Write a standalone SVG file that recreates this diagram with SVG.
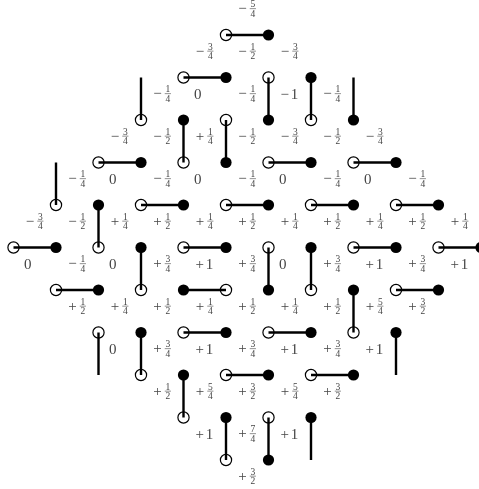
<svg xmlns="http://www.w3.org/2000/svg" width="479" height="489" viewBox="0 0 479 489">
<style>
.o{fill:#fff;stroke:#000;stroke-width:1.2}
.f{fill:#000}
.e{stroke:#000;stroke-width:2.4;fill:none}
#labels{opacity:0.995}
.s{font-family:"Liberation Serif",serif;font-size:15px;text-anchor:middle;fill:#444}
.n{font-family:"Liberation Serif",serif;font-size:9.5px;text-anchor:middle;fill:#444}
.b{stroke:#444;stroke-width:0.6;fill:none}
</style>
<rect width="479" height="489" fill="#fff"/>
<g id="nodes">
<g id="v5_0"><circle class="o" cx="226" cy="35" r="5.6"/></g>
<g id="v6_0"><circle class="f" cx="268.5" cy="35" r="5.6"/></g>
<g id="v4_1"><circle class="o" cx="183.5" cy="77.5" r="5.6"/></g>
<g id="v5_1"><circle class="f" cx="226" cy="77.5" r="5.6"/></g>
<g id="v6_1"><circle class="o" cx="268.5" cy="77.5" r="5.6"/></g>
<g id="v7_1"><circle class="f" cx="311" cy="77.5" r="5.6"/></g>
<g id="v3_2"><circle class="o" cx="141" cy="120" r="5.6"/></g>
<g id="v4_2"><circle class="f" cx="183.5" cy="120" r="5.6"/></g>
<g id="v5_2"><circle class="o" cx="226" cy="120" r="5.6"/></g>
<g id="v6_2"><circle class="f" cx="268.5" cy="120" r="5.6"/></g>
<g id="v7_2"><circle class="o" cx="311" cy="120" r="5.6"/></g>
<g id="v8_2"><circle class="f" cx="353.5" cy="120" r="5.6"/></g>
<g id="v2_3"><circle class="o" cx="98.5" cy="162.5" r="5.6"/></g>
<g id="v3_3"><circle class="f" cx="141" cy="162.5" r="5.6"/></g>
<g id="v4_3"><circle class="o" cx="183.5" cy="162.5" r="5.6"/></g>
<g id="v5_3"><circle class="f" cx="226" cy="162.5" r="5.6"/></g>
<g id="v6_3"><circle class="o" cx="268.5" cy="162.5" r="5.6"/></g>
<g id="v7_3"><circle class="f" cx="311" cy="162.5" r="5.6"/></g>
<g id="v8_3"><circle class="o" cx="353.5" cy="162.5" r="5.6"/></g>
<g id="v9_3"><circle class="f" cx="396" cy="162.5" r="5.6"/></g>
<g id="v1_4"><circle class="o" cx="56" cy="205" r="5.6"/></g>
<g id="v2_4"><circle class="f" cx="98.5" cy="205" r="5.6"/></g>
<g id="v3_4"><circle class="o" cx="141" cy="205" r="5.6"/></g>
<g id="v4_4"><circle class="f" cx="183.5" cy="205" r="5.6"/></g>
<g id="v5_4"><circle class="o" cx="226" cy="205" r="5.6"/></g>
<g id="v6_4"><circle class="f" cx="268.5" cy="205" r="5.6"/></g>
<g id="v7_4"><circle class="o" cx="311" cy="205" r="5.6"/></g>
<g id="v8_4"><circle class="f" cx="353.5" cy="205" r="5.6"/></g>
<g id="v9_4"><circle class="o" cx="396" cy="205" r="5.6"/></g>
<g id="v10_4"><circle class="f" cx="438.5" cy="205" r="5.6"/></g>
<g id="v0_5"><circle class="o" cx="13.5" cy="247.5" r="5.6"/></g>
<g id="v1_5"><circle class="f" cx="56" cy="247.5" r="5.6"/></g>
<g id="v2_5"><circle class="o" cx="98.5" cy="247.5" r="5.6"/></g>
<g id="v3_5"><circle class="f" cx="141" cy="247.5" r="5.6"/></g>
<g id="v4_5"><circle class="o" cx="183.5" cy="247.5" r="5.6"/></g>
<g id="v5_5"><circle class="f" cx="226" cy="247.5" r="5.6"/></g>
<g id="v6_5"><circle class="o" cx="268.5" cy="247.5" r="5.6"/></g>
<g id="v7_5"><circle class="f" cx="311" cy="247.5" r="5.6"/></g>
<g id="v8_5"><circle class="o" cx="353.5" cy="247.5" r="5.6"/></g>
<g id="v9_5"><circle class="f" cx="396" cy="247.5" r="5.6"/></g>
<g id="v10_5"><circle class="o" cx="438.5" cy="247.5" r="5.6"/></g>
<g id="v11_5"><circle class="f" cx="481" cy="247.5" r="5.6"/></g>
<g id="v1_6"><circle class="o" cx="56" cy="290" r="5.6"/></g>
<g id="v2_6"><circle class="f" cx="98.5" cy="290" r="5.6"/></g>
<g id="v3_6"><circle class="o" cx="141" cy="290" r="5.6"/></g>
<g id="v4_6"><circle class="f" cx="183.5" cy="290" r="5.6"/></g>
<g id="v5_6"><circle class="o" cx="226" cy="290" r="5.6"/></g>
<g id="v6_6"><circle class="f" cx="268.5" cy="290" r="5.6"/></g>
<g id="v7_6"><circle class="o" cx="311" cy="290" r="5.6"/></g>
<g id="v8_6"><circle class="f" cx="353.5" cy="290" r="5.6"/></g>
<g id="v9_6"><circle class="o" cx="396" cy="290" r="5.6"/></g>
<g id="v10_6"><circle class="f" cx="438.5" cy="290" r="5.6"/></g>
<g id="v2_7"><circle class="o" cx="98.5" cy="332.5" r="5.6"/></g>
<g id="v3_7"><circle class="f" cx="141" cy="332.5" r="5.6"/></g>
<g id="v4_7"><circle class="o" cx="183.5" cy="332.5" r="5.6"/></g>
<g id="v5_7"><circle class="f" cx="226" cy="332.5" r="5.6"/></g>
<g id="v6_7"><circle class="o" cx="268.5" cy="332.5" r="5.6"/></g>
<g id="v7_7"><circle class="f" cx="311" cy="332.5" r="5.6"/></g>
<g id="v8_7"><circle class="o" cx="353.5" cy="332.5" r="5.6"/></g>
<g id="v9_7"><circle class="f" cx="396" cy="332.5" r="5.6"/></g>
<g id="v3_8"><circle class="o" cx="141" cy="375" r="5.6"/></g>
<g id="v4_8"><circle class="f" cx="183.5" cy="375" r="5.6"/></g>
<g id="v5_8"><circle class="o" cx="226" cy="375" r="5.6"/></g>
<g id="v6_8"><circle class="f" cx="268.5" cy="375" r="5.6"/></g>
<g id="v7_8"><circle class="o" cx="311" cy="375" r="5.6"/></g>
<g id="v8_8"><circle class="f" cx="353.5" cy="375" r="5.6"/></g>
<g id="v4_9"><circle class="o" cx="183.5" cy="417.5" r="5.6"/></g>
<g id="v5_9"><circle class="f" cx="226" cy="417.5" r="5.6"/></g>
<g id="v6_9"><circle class="o" cx="268.5" cy="417.5" r="5.6"/></g>
<g id="v7_9"><circle class="f" cx="311" cy="417.5" r="5.6"/></g>
<g id="v5_10"><circle class="o" cx="226" cy="460" r="5.6"/></g>
<g id="v6_10"><circle class="f" cx="268.5" cy="460" r="5.6"/></g>
</g>
<g id="connectors" class="e">
<path d="M226 35H268.5"/>
<path d="M183.5 77.5H226"/>
<path d="M268.5 77.5V120"/>
<path d="M311 77.5V120"/>
<path d="M141 77.5V120"/>
<path d="M353.5 77.5V120"/>
<path d="M183.5 120V162.5"/>
<path d="M226 120V162.5"/>
<path d="M98.5 162.5H141"/>
<path d="M268.5 162.5H311"/>
<path d="M353.5 162.5H396"/>
<path d="M56 162.5V205"/>
<path d="M98.5 205V247.5"/>
<path d="M141 205H183.5"/>
<path d="M226 205H268.5"/>
<path d="M311 205H353.5"/>
<path d="M396 205H438.5"/>
<path d="M13.5 247.5H56"/>
<path d="M141 247.5V290"/>
<path d="M183.5 247.5H226"/>
<path d="M268.5 247.5V290"/>
<path d="M311 247.5V290"/>
<path d="M353.5 247.5H396"/>
<path d="M438.5 247.5H481"/>
<path d="M56 290H98.5"/>
<path d="M183.5 290H226"/>
<path d="M353.5 290V332.5"/>
<path d="M396 290H438.5"/>
<path d="M98.5 332.5V375"/>
<path d="M141 332.5V375"/>
<path d="M183.5 332.5H226"/>
<path d="M268.5 332.5H311"/>
<path d="M396 332.5V375"/>
<path d="M183.5 375V417.5"/>
<path d="M226 375H268.5"/>
<path d="M311 375H353.5"/>
<path d="M226 417.5V460"/>
<path d="M268.5 417.5V460"/>
<path d="M311 417.5V460"/>
</g>
<g id="labels">
<g id="l5_m1" transform="translate(247.25 13.75)"><text class="s" x="-4.8" y="-0.6">−</text><text class="n" x="5.6" y="-6.7">5</text><path class="b" d="M2.5 -5.1h6.2"/><text class="n" x="5.6" y="2.9">4</text></g>
<g id="l4_0" transform="translate(204.75 56.25)"><text class="s" x="-4.8" y="-0.6">−</text><text class="n" x="5.6" y="-6.7">3</text><path class="b" d="M2.5 -5.1h6.2"/><text class="n" x="5.6" y="2.9">4</text></g>
<g id="l5_0" transform="translate(247.25 56.25)"><text class="s" x="-4.8" y="-0.6">−</text><text class="n" x="5.6" y="-6.7">1</text><path class="b" d="M2.5 -5.1h6.2"/><text class="n" x="5.6" y="2.9">2</text></g>
<g id="l6_0" transform="translate(289.75 56.25)"><text class="s" x="-4.8" y="-0.6">−</text><text class="n" x="5.6" y="-6.7">3</text><path class="b" d="M2.5 -5.1h6.2"/><text class="n" x="5.6" y="2.9">4</text></g>
<g id="l3_1" transform="translate(162.25 98.75)"><text class="s" x="-4.8" y="-0.6">−</text><text class="n" x="5.6" y="-6.7">1</text><path class="b" d="M2.5 -5.1h6.2"/><text class="n" x="5.6" y="2.9">4</text></g>
<g id="l4_1" transform="translate(204.75 98.75)"><text class="s" x="-7" y="0">0</text></g>
<g id="l5_1" transform="translate(247.25 98.75)"><text class="s" x="-4.8" y="-0.6">−</text><text class="n" x="5.6" y="-6.7">1</text><path class="b" d="M2.5 -5.1h6.2"/><text class="n" x="5.6" y="2.9">4</text></g>
<g id="l6_1" transform="translate(289.75 98.75)"><text class="s" x="-5" y="0">−</text><text class="s" x="4.8" y="0">1</text></g>
<g id="l7_1" transform="translate(332.25 98.75)"><text class="s" x="-4.8" y="-0.6">−</text><text class="n" x="5.6" y="-6.7">1</text><path class="b" d="M2.5 -5.1h6.2"/><text class="n" x="5.6" y="2.9">4</text></g>
<g id="l2_2" transform="translate(119.75 141.25)"><text class="s" x="-4.8" y="-0.6">−</text><text class="n" x="5.6" y="-6.7">3</text><path class="b" d="M2.5 -5.1h6.2"/><text class="n" x="5.6" y="2.9">4</text></g>
<g id="l3_2" transform="translate(162.25 141.25)"><text class="s" x="-4.8" y="-0.6">−</text><text class="n" x="5.6" y="-6.7">1</text><path class="b" d="M2.5 -5.1h6.2"/><text class="n" x="5.6" y="2.9">2</text></g>
<g id="l4_2" transform="translate(204.75 141.25)"><text class="s" x="-4.8" y="-0.6">+</text><text class="n" x="5.6" y="-6.7">1</text><path class="b" d="M2.5 -5.1h6.2"/><text class="n" x="5.6" y="2.9">4</text></g>
<g id="l5_2" transform="translate(247.25 141.25)"><text class="s" x="-4.8" y="-0.6">−</text><text class="n" x="5.6" y="-6.7">1</text><path class="b" d="M2.5 -5.1h6.2"/><text class="n" x="5.6" y="2.9">2</text></g>
<g id="l6_2" transform="translate(289.75 141.25)"><text class="s" x="-4.8" y="-0.6">−</text><text class="n" x="5.6" y="-6.7">3</text><path class="b" d="M2.5 -5.1h6.2"/><text class="n" x="5.6" y="2.9">4</text></g>
<g id="l7_2" transform="translate(332.25 141.25)"><text class="s" x="-4.8" y="-0.6">−</text><text class="n" x="5.6" y="-6.7">1</text><path class="b" d="M2.5 -5.1h6.2"/><text class="n" x="5.6" y="2.9">2</text></g>
<g id="l8_2" transform="translate(374.75 141.25)"><text class="s" x="-4.8" y="-0.6">−</text><text class="n" x="5.6" y="-6.7">3</text><path class="b" d="M2.5 -5.1h6.2"/><text class="n" x="5.6" y="2.9">4</text></g>
<g id="l1_3" transform="translate(77.25 183.75)"><text class="s" x="-4.8" y="-0.6">−</text><text class="n" x="5.6" y="-6.7">1</text><path class="b" d="M2.5 -5.1h6.2"/><text class="n" x="5.6" y="2.9">4</text></g>
<g id="l2_3" transform="translate(119.75 183.75)"><text class="s" x="-7" y="0">0</text></g>
<g id="l3_3" transform="translate(162.25 183.75)"><text class="s" x="-4.8" y="-0.6">−</text><text class="n" x="5.6" y="-6.7">1</text><path class="b" d="M2.5 -5.1h6.2"/><text class="n" x="5.6" y="2.9">4</text></g>
<g id="l4_3" transform="translate(204.75 183.75)"><text class="s" x="-7" y="0">0</text></g>
<g id="l5_3" transform="translate(247.25 183.75)"><text class="s" x="-4.8" y="-0.6">−</text><text class="n" x="5.6" y="-6.7">1</text><path class="b" d="M2.5 -5.1h6.2"/><text class="n" x="5.6" y="2.9">4</text></g>
<g id="l6_3" transform="translate(289.75 183.75)"><text class="s" x="-7" y="0">0</text></g>
<g id="l7_3" transform="translate(332.25 183.75)"><text class="s" x="-4.8" y="-0.6">−</text><text class="n" x="5.6" y="-6.7">1</text><path class="b" d="M2.5 -5.1h6.2"/><text class="n" x="5.6" y="2.9">4</text></g>
<g id="l8_3" transform="translate(374.75 183.75)"><text class="s" x="-7" y="0">0</text></g>
<g id="l9_3" transform="translate(417.25 183.75)"><text class="s" x="-4.8" y="-0.6">−</text><text class="n" x="5.6" y="-6.7">1</text><path class="b" d="M2.5 -5.1h6.2"/><text class="n" x="5.6" y="2.9">4</text></g>
<g id="l0_4" transform="translate(34.75 226.25)"><text class="s" x="-4.8" y="-0.6">−</text><text class="n" x="5.6" y="-6.7">3</text><path class="b" d="M2.5 -5.1h6.2"/><text class="n" x="5.6" y="2.9">4</text></g>
<g id="l1_4" transform="translate(77.25 226.25)"><text class="s" x="-4.8" y="-0.6">−</text><text class="n" x="5.6" y="-6.7">1</text><path class="b" d="M2.5 -5.1h6.2"/><text class="n" x="5.6" y="2.9">2</text></g>
<g id="l2_4" transform="translate(119.75 226.25)"><text class="s" x="-4.8" y="-0.6">+</text><text class="n" x="5.6" y="-6.7">1</text><path class="b" d="M2.5 -5.1h6.2"/><text class="n" x="5.6" y="2.9">4</text></g>
<g id="l3_4" transform="translate(162.25 226.25)"><text class="s" x="-4.8" y="-0.6">+</text><text class="n" x="5.6" y="-6.7">1</text><path class="b" d="M2.5 -5.1h6.2"/><text class="n" x="5.6" y="2.9">2</text></g>
<g id="l4_4" transform="translate(204.75 226.25)"><text class="s" x="-4.8" y="-0.6">+</text><text class="n" x="5.6" y="-6.7">1</text><path class="b" d="M2.5 -5.1h6.2"/><text class="n" x="5.6" y="2.9">4</text></g>
<g id="l5_4" transform="translate(247.25 226.25)"><text class="s" x="-4.8" y="-0.6">+</text><text class="n" x="5.6" y="-6.7">1</text><path class="b" d="M2.5 -5.1h6.2"/><text class="n" x="5.6" y="2.9">2</text></g>
<g id="l6_4" transform="translate(289.75 226.25)"><text class="s" x="-4.8" y="-0.6">+</text><text class="n" x="5.6" y="-6.7">1</text><path class="b" d="M2.5 -5.1h6.2"/><text class="n" x="5.6" y="2.9">4</text></g>
<g id="l7_4" transform="translate(332.25 226.25)"><text class="s" x="-4.8" y="-0.6">+</text><text class="n" x="5.6" y="-6.7">1</text><path class="b" d="M2.5 -5.1h6.2"/><text class="n" x="5.6" y="2.9">2</text></g>
<g id="l8_4" transform="translate(374.75 226.25)"><text class="s" x="-4.8" y="-0.6">+</text><text class="n" x="5.6" y="-6.7">1</text><path class="b" d="M2.5 -5.1h6.2"/><text class="n" x="5.6" y="2.9">4</text></g>
<g id="l9_4" transform="translate(417.25 226.25)"><text class="s" x="-4.8" y="-0.6">+</text><text class="n" x="5.6" y="-6.7">1</text><path class="b" d="M2.5 -5.1h6.2"/><text class="n" x="5.6" y="2.9">2</text></g>
<g id="l10_4" transform="translate(459.75 226.25)"><text class="s" x="-4.8" y="-0.6">+</text><text class="n" x="5.6" y="-6.7">1</text><path class="b" d="M2.5 -5.1h6.2"/><text class="n" x="5.6" y="2.9">4</text></g>
<g id="l0_5" transform="translate(34.75 268.75)"><text class="s" x="-7" y="0">0</text></g>
<g id="l1_5" transform="translate(77.25 268.75)"><text class="s" x="-4.8" y="-0.6">−</text><text class="n" x="5.6" y="-6.7">1</text><path class="b" d="M2.5 -5.1h6.2"/><text class="n" x="5.6" y="2.9">4</text></g>
<g id="l2_5" transform="translate(119.75 268.75)"><text class="s" x="-7" y="0">0</text></g>
<g id="l3_5" transform="translate(162.25 268.75)"><text class="s" x="-4.8" y="-0.6">+</text><text class="n" x="5.6" y="-6.7">3</text><path class="b" d="M2.5 -5.1h6.2"/><text class="n" x="5.6" y="2.9">4</text></g>
<g id="l4_5" transform="translate(204.75 268.75)"><text class="s" x="-5" y="0">+</text><text class="s" x="4.8" y="0">1</text></g>
<g id="l5_5" transform="translate(247.25 268.75)"><text class="s" x="-4.8" y="-0.6">+</text><text class="n" x="5.6" y="-6.7">3</text><path class="b" d="M2.5 -5.1h6.2"/><text class="n" x="5.6" y="2.9">4</text></g>
<g id="l6_5" transform="translate(289.75 268.75)"><text class="s" x="-7" y="0">0</text></g>
<g id="l7_5" transform="translate(332.25 268.75)"><text class="s" x="-4.8" y="-0.6">+</text><text class="n" x="5.6" y="-6.7">3</text><path class="b" d="M2.5 -5.1h6.2"/><text class="n" x="5.6" y="2.9">4</text></g>
<g id="l8_5" transform="translate(374.75 268.75)"><text class="s" x="-5" y="0">+</text><text class="s" x="4.8" y="0">1</text></g>
<g id="l9_5" transform="translate(417.25 268.75)"><text class="s" x="-4.8" y="-0.6">+</text><text class="n" x="5.6" y="-6.7">3</text><path class="b" d="M2.5 -5.1h6.2"/><text class="n" x="5.6" y="2.9">4</text></g>
<g id="l10_5" transform="translate(459.75 268.75)"><text class="s" x="-5" y="0">+</text><text class="s" x="4.8" y="0">1</text></g>
<g id="l1_6" transform="translate(77.25 311.25)"><text class="s" x="-4.8" y="-0.6">+</text><text class="n" x="5.6" y="-6.7">1</text><path class="b" d="M2.5 -5.1h6.2"/><text class="n" x="5.6" y="2.9">2</text></g>
<g id="l2_6" transform="translate(119.75 311.25)"><text class="s" x="-4.8" y="-0.6">+</text><text class="n" x="5.6" y="-6.7">1</text><path class="b" d="M2.5 -5.1h6.2"/><text class="n" x="5.6" y="2.9">4</text></g>
<g id="l3_6" transform="translate(162.25 311.25)"><text class="s" x="-4.8" y="-0.6">+</text><text class="n" x="5.6" y="-6.7">1</text><path class="b" d="M2.5 -5.1h6.2"/><text class="n" x="5.6" y="2.9">2</text></g>
<g id="l4_6" transform="translate(204.75 311.25)"><text class="s" x="-4.8" y="-0.6">+</text><text class="n" x="5.6" y="-6.7">1</text><path class="b" d="M2.5 -5.1h6.2"/><text class="n" x="5.6" y="2.9">4</text></g>
<g id="l5_6" transform="translate(247.25 311.25)"><text class="s" x="-4.8" y="-0.6">+</text><text class="n" x="5.6" y="-6.7">1</text><path class="b" d="M2.5 -5.1h6.2"/><text class="n" x="5.6" y="2.9">2</text></g>
<g id="l6_6" transform="translate(289.75 311.25)"><text class="s" x="-4.8" y="-0.6">+</text><text class="n" x="5.6" y="-6.7">1</text><path class="b" d="M2.5 -5.1h6.2"/><text class="n" x="5.6" y="2.9">4</text></g>
<g id="l7_6" transform="translate(332.25 311.25)"><text class="s" x="-4.8" y="-0.6">+</text><text class="n" x="5.6" y="-6.7">1</text><path class="b" d="M2.5 -5.1h6.2"/><text class="n" x="5.6" y="2.9">2</text></g>
<g id="l8_6" transform="translate(374.75 311.25)"><text class="s" x="-4.8" y="-0.6">+</text><text class="n" x="5.6" y="-6.7">5</text><path class="b" d="M2.5 -5.1h6.2"/><text class="n" x="5.6" y="2.9">4</text></g>
<g id="l9_6" transform="translate(417.25 311.25)"><text class="s" x="-4.8" y="-0.6">+</text><text class="n" x="5.6" y="-6.7">3</text><path class="b" d="M2.5 -5.1h6.2"/><text class="n" x="5.6" y="2.9">2</text></g>
<g id="l2_7" transform="translate(119.75 353.75)"><text class="s" x="-7" y="0">0</text></g>
<g id="l3_7" transform="translate(162.25 353.75)"><text class="s" x="-4.8" y="-0.6">+</text><text class="n" x="5.6" y="-6.7">3</text><path class="b" d="M2.5 -5.1h6.2"/><text class="n" x="5.6" y="2.9">4</text></g>
<g id="l4_7" transform="translate(204.75 353.75)"><text class="s" x="-5" y="0">+</text><text class="s" x="4.8" y="0">1</text></g>
<g id="l5_7" transform="translate(247.25 353.75)"><text class="s" x="-4.8" y="-0.6">+</text><text class="n" x="5.6" y="-6.7">3</text><path class="b" d="M2.5 -5.1h6.2"/><text class="n" x="5.6" y="2.9">4</text></g>
<g id="l6_7" transform="translate(289.75 353.75)"><text class="s" x="-5" y="0">+</text><text class="s" x="4.8" y="0">1</text></g>
<g id="l7_7" transform="translate(332.25 353.75)"><text class="s" x="-4.8" y="-0.6">+</text><text class="n" x="5.6" y="-6.7">3</text><path class="b" d="M2.5 -5.1h6.2"/><text class="n" x="5.6" y="2.9">4</text></g>
<g id="l8_7" transform="translate(374.75 353.75)"><text class="s" x="-5" y="0">+</text><text class="s" x="4.8" y="0">1</text></g>
<g id="l3_8" transform="translate(162.25 396.25)"><text class="s" x="-4.8" y="-0.6">+</text><text class="n" x="5.6" y="-6.7">1</text><path class="b" d="M2.5 -5.1h6.2"/><text class="n" x="5.6" y="2.9">2</text></g>
<g id="l4_8" transform="translate(204.75 396.25)"><text class="s" x="-4.8" y="-0.6">+</text><text class="n" x="5.6" y="-6.7">5</text><path class="b" d="M2.5 -5.1h6.2"/><text class="n" x="5.6" y="2.9">4</text></g>
<g id="l5_8" transform="translate(247.25 396.25)"><text class="s" x="-4.8" y="-0.6">+</text><text class="n" x="5.6" y="-6.7">3</text><path class="b" d="M2.5 -5.1h6.2"/><text class="n" x="5.6" y="2.9">2</text></g>
<g id="l6_8" transform="translate(289.75 396.25)"><text class="s" x="-4.8" y="-0.6">+</text><text class="n" x="5.6" y="-6.7">5</text><path class="b" d="M2.5 -5.1h6.2"/><text class="n" x="5.6" y="2.9">4</text></g>
<g id="l7_8" transform="translate(332.25 396.25)"><text class="s" x="-4.8" y="-0.6">+</text><text class="n" x="5.6" y="-6.7">3</text><path class="b" d="M2.5 -5.1h6.2"/><text class="n" x="5.6" y="2.9">2</text></g>
<g id="l4_9" transform="translate(204.75 438.75)"><text class="s" x="-5" y="0">+</text><text class="s" x="4.8" y="0">1</text></g>
<g id="l5_9" transform="translate(247.25 438.75)"><text class="s" x="-4.8" y="-0.6">+</text><text class="n" x="5.6" y="-6.7">7</text><path class="b" d="M2.5 -5.1h6.2"/><text class="n" x="5.6" y="2.9">4</text></g>
<g id="l6_9" transform="translate(289.75 438.75)"><text class="s" x="-5" y="0">+</text><text class="s" x="4.8" y="0">1</text></g>
<g id="l5_10" transform="translate(247.25 481.25)"><text class="s" x="-4.8" y="-0.6">+</text><text class="n" x="5.6" y="-6.7">3</text><path class="b" d="M2.5 -5.1h6.2"/><text class="n" x="5.6" y="2.9">2</text></g>
</g>
</svg>
